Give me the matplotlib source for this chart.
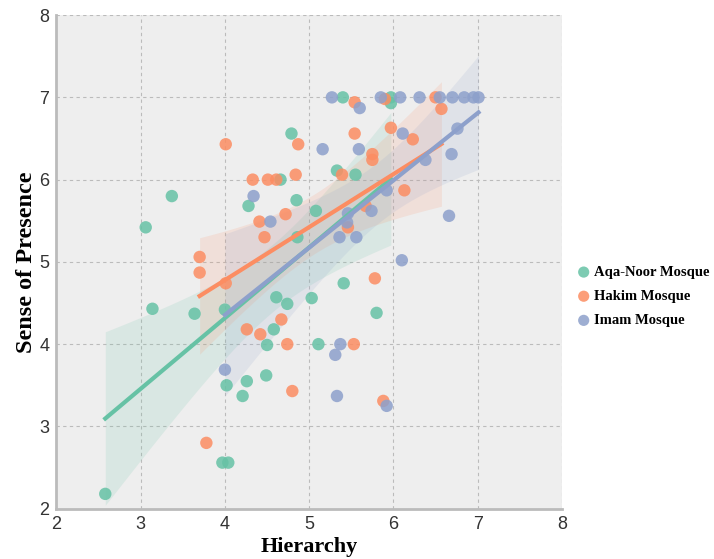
import numpy as np
import matplotlib
matplotlib.use('Agg')
import matplotlib.pyplot as plt

# Data (Hierarchy, Sense of Presence)
aqa_x = [2.58, 3.06, 3.14, 3.37, 3.64, 3.97, 4.04, 4.00, 4.02, 4.21, 4.26, 4.28, 4.49, 4.50,
         4.58, 4.61, 4.66, 4.74, 4.79, 4.85, 4.86, 5.03, 5.08, 5.11, 5.33, 5.40, 5.41, 5.55,
         5.80, 5.97, 5.97]
aqa_y = [2.18, 5.42, 4.43, 5.80, 4.37, 2.56, 2.56, 4.42, 3.50, 3.37, 3.55, 5.68, 3.62, 3.99,
         4.18, 4.57, 6.00, 4.49, 6.56, 5.75, 5.30, 4.56, 5.62, 4.00, 6.11, 7.00, 4.74, 6.06,
         4.38, 7.00, 6.93]

hakim_x = [3.70, 3.70, 3.78, 4.01, 4.01, 4.26, 4.33, 4.41, 4.42, 4.47, 4.51, 4.61, 4.67, 4.72,
           4.74, 4.80, 4.84, 4.87, 5.39, 5.46, 5.53, 5.54, 5.54, 5.67, 5.75, 5.75, 5.78, 5.88,
           5.90, 5.97, 6.13, 6.23, 6.50, 6.57]
hakim_y = [5.06, 4.87, 2.80, 4.74, 6.43, 4.18, 6.00, 5.49, 4.12, 5.30, 6.00, 6.00, 4.30, 5.58,
           4.00, 3.43, 6.06, 6.43, 6.06, 5.42, 4.00, 6.56, 6.94, 5.68, 6.31, 6.24, 4.80, 3.31,
           6.98, 6.63, 5.87, 6.49, 7.00, 6.86]

imam_x = [4.00, 4.34, 4.54, 5.16, 5.27, 5.31, 5.33, 5.36, 5.37, 5.45, 5.46, 5.56, 5.59, 5.60,
          5.74, 5.85, 5.92, 5.92, 6.08, 6.10, 6.11, 6.31, 6.38, 6.55, 6.66, 6.69, 6.70, 6.76,
          6.84, 6.95, 7.01]
imam_y = [3.69, 5.80, 5.49, 6.37, 7.00, 3.87, 3.37, 5.30, 4.00, 5.48, 5.59, 5.30, 6.37, 6.87,
          5.62, 7.00, 5.87, 3.25, 7.00, 5.02, 6.56, 7.00, 6.24, 7.00, 5.56, 6.31, 7.00, 6.62,
          7.00, 7.00, 7.00]

groups = ['Aqa-Noor Mosque', 'Hakim Mosque', 'Imam Mosque']
colors = ['#66c2a5', '#fc8d62', '#8da0cb']
series = [(aqa_x, aqa_y), (hakim_x, hakim_y), (imam_x, imam_y)]

fig = plt.figure(figsize=(7.14, 5.59), dpi=100)
ax = fig.add_axes([0.079, 0.09, 0.708, 0.883])
ax.set_facecolor('#eeeeee')

handles = []
for (xs, ys), name, c in zip(series, groups, colors):
    x = np.array(xs)
    y = np.array(ys)
    h = ax.scatter(x, y, s=80, color=c, alpha=0.85, edgecolors='none', zorder=3, label=name)
    handles.append(h)
    # least squares fit with 95% confidence band of the mean
    b, a = np.polyfit(x, y, 1)
    grid = np.linspace(x.min(), x.max(), 100)
    fit = a + b * grid
    resid = y - (a + b * x)
    n = len(x)
    s = np.sqrt(np.sum(resid ** 2) / (n - 2))
    se = s * np.sqrt(1 / n + (grid - x.mean()) ** 2 / np.sum((x - x.mean()) ** 2))
    ax.fill_between(grid, fit - 2.04 * se, fit + 2.04 * se, color=c, alpha=0.15,
                    linewidth=0, zorder=2)
    ax.plot(grid, fit, color=c, linewidth=3, zorder=4)

ax.set_xlim(2, 8)
ax.set_ylim(2, 8)
ax.set_xticks(range(2, 9))
ax.set_yticks(range(2, 9))
ax.grid(True, linestyle=(0, (3, 3)), color='#bbbbbb', linewidth=0.8, zorder=0)
ax.set_axisbelow(True)
for side in ['top', 'right']:
    ax.spines[side].set_visible(False)
for side in ['left', 'bottom']:
    ax.spines[side].set_color('#bbbbbb')
    ax.spines[side].set_linewidth(2)
ax.tick_params(length=0, labelsize=13, labelcolor='#333333', pad=5)
for lbl in ax.get_xticklabels() + ax.get_yticklabels():
    lbl.set_family('Liberation Sans')

serif = 'Liberation Serif'
ax.set_xlabel('Hierarchy', fontsize=16, fontweight='bold', family=serif, labelpad=3)
ax.set_ylabel('Sense of Presence', fontsize=17.5, fontweight='bold', family=serif, labelpad=2)

ax.legend(handles=handles, loc='center left', bbox_to_anchor=(1.02, 0.43), frameon=False,
          prop={'family': serif, 'weight': 'bold', 'size': 10.5}, handlelength=0.8,
          handletextpad=0.3, borderaxespad=0, markerscale=0.9, labelspacing=0.75)

plt.savefig('out.png', dpi=100)
